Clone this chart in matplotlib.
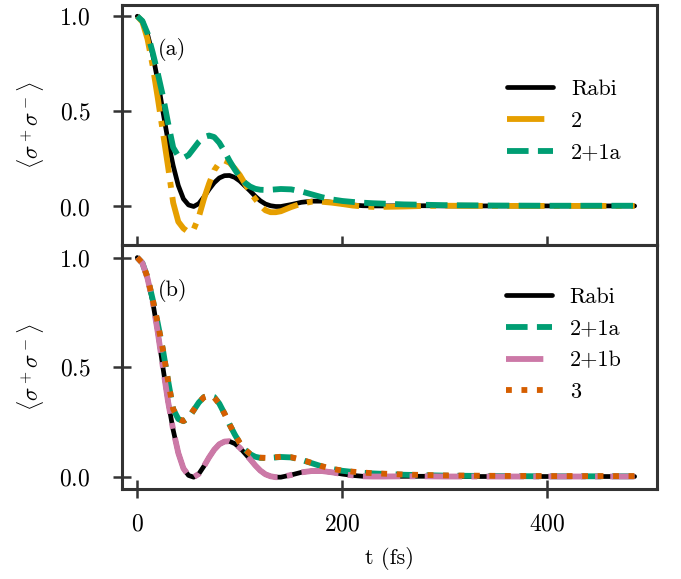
import numpy as np
import matplotlib
matplotlib.use('Agg')
import matplotlib.pyplot as plt

plt.rcParams['font.family'] = 'serif'
plt.rcParams['font.serif'] = ['cmr10']
plt.rcParams['mathtext.fontset'] = 'cm'
plt.rcParams['axes.formatter.use_mathtext'] = True
plt.rcParams['axes.unicode_minus'] = False

# time axis (fs)
t = [0, 5, 10, 15, 20, 25, 30, 35, 40, 45, 50, 55, 60, 65, 70, 75, 80, 85, 90,
     95, 100, 105, 110, 115, 120, 125, 130, 135, 140, 150, 160, 170, 180, 190,
     200, 210, 220, 230, 240, 260, 280, 300, 350, 400, 450, 485]

rabi = [1.0, 0.975, 0.905, 0.80, 0.66, 0.50, 0.345, 0.215, 0.11, 0.04, 0.008,
        0.0, 0.015, 0.05, 0.09, 0.125, 0.15, 0.162, 0.163, 0.153, 0.134, 0.108,
        0.082, 0.054, 0.03, 0.013, 0.004, 0.0, 0.0, 0.01, 0.022, 0.028, 0.028,
        0.022, 0.014, 0.008, 0.004, 0.003, 0.003, 0.004, 0.004, 0.003, 0.003,
        0.003, 0.003, 0.003]

two = [1.0, 0.97, 0.88, 0.74, 0.57, 0.39, 0.21, 0.02, -0.08, -0.115, -0.135,
       -0.12, -0.055, 0.04, 0.12, 0.19, 0.23, 0.242, 0.23, 0.2, 0.165, 0.12,
       0.075, 0.04, 0.005, -0.02, -0.03, -0.03, -0.025, -0.003, 0.015, 0.025,
       0.025, 0.02, 0.013, 0.005, 0.0, -0.002, -0.002, 0.0, 0.003, 0.004,
       0.003, 0.003, 0.003, 0.003]

two_1a = [1.0, 0.975, 0.91, 0.81, 0.70, 0.58, 0.44, 0.31, 0.265, 0.255, 0.27,
          0.305, 0.34, 0.365, 0.373, 0.365, 0.335, 0.29, 0.24, 0.195, 0.155,
          0.125, 0.105, 0.093, 0.088, 0.087, 0.088, 0.09, 0.092, 0.09, 0.079,
          0.064, 0.049, 0.037, 0.029, 0.024, 0.02, 0.017, 0.015, 0.011, 0.009,
          0.007, 0.005, 0.004, 0.004, 0.004]

two_1b = [1.0, 0.975, 0.905, 0.80, 0.66, 0.50, 0.345, 0.215, 0.11, 0.04, 0.008,
          0.0, 0.015, 0.05, 0.09, 0.125, 0.15, 0.162, 0.164, 0.154, 0.134,
          0.108, 0.082, 0.054, 0.03, 0.013, 0.004, 0.0, 0.0, 0.01, 0.022, 0.028,
          0.028, 0.022, 0.014, 0.008, 0.004, 0.003, 0.003, 0.004, 0.004, 0.003,
          0.003, 0.003, 0.003, 0.003]

three = [1.0, 0.975, 0.91, 0.81, 0.70, 0.58, 0.44, 0.31, 0.265, 0.256, 0.272,
         0.306, 0.34, 0.364, 0.371, 0.363, 0.334, 0.29, 0.24, 0.196, 0.156,
         0.126, 0.106, 0.094, 0.089, 0.088, 0.089, 0.091, 0.093, 0.091, 0.08,
         0.065, 0.05, 0.038, 0.03, 0.025, 0.021, 0.018, 0.016, 0.012, 0.01,
         0.008, 0.006, 0.005, 0.005, 0.005]

yticks = [0.0, 0.5, 1.0]
xticks = [0, 200, 400]

black = 'black'
orange = '#E69F00'
green = '#009E73'
pink = '#CC79A7'
red = '#D55E00'
edge = '#333333'

fig = plt.figure(figsize=(6.81, 5.79), dpi=100)
ax1 = fig.add_axes([0.179, 0.576, 0.786, 0.415])
ax2 = fig.add_axes([0.179, 0.155, 0.786, 0.421], sharex=ax1)

ax1.plot(t, rabi, color=black, lw=3.4, solid_capstyle='round', label='Rabi')
ax1.plot(t, two, color=orange, lw=4.2, ls='-.', label='2')
ax1.plot(t, two_1a, color=green, lw=4.2, ls='--', label='2+1a')

ax2.plot(t, rabi, color=black, lw=3.4, solid_capstyle='round', label='Rabi')
ax2.plot(t, two_1a, color=green, lw=4.2, ls='--', label='2+1a')
ax2.plot(t, two_1b, color=pink, lw=4.2, ls='-.', label='2+1b')
ax2.plot(t, three, color=red, lw=4.2, ls=':', label='3')

ax1.set_ylim(-0.205, 1.058)
ax2.set_ylim(-0.055, 1.055)
ax1.set_xlim(-15, 507)

for ax, tag, lpos in [(ax1, '(a)', 0.519), (ax2, '(b)', 0.593)]:
    for s in ax.spines.values():
        s.set_color(edge)
        s.set_linewidth(2.2)
    ax.tick_params(direction='inout', length=13, width=1.8, color=edge,
                   labelsize=17)
    ax.tick_params(axis='y', pad=16)
    ax.tick_params(axis='x', pad=11)
    ax.set_yticks(yticks)
    ax.set_ylabel(r'$\langle\sigma^+\sigma^-\rangle$', fontsize=16)
    ax.yaxis.set_label_coords(-0.142, 0.5)
    ax.text(0.067, 0.863, tag, transform=ax.transAxes, fontsize=16,
            ha='left', va='top')
    ax.legend(loc='center right', bbox_to_anchor=(0.95, lpos), frameon=False,
              fontsize=16, handlelength=2.07, handletextpad=0.8,
              labelspacing=0.55, borderaxespad=0)

ax1.set_xticks(xticks)
ax1.tick_params(labelbottom=False)
ax2.set_xlabel('t (fs)', fontsize=16, labelpad=8)

fig.savefig('out.png', dpi=100)
